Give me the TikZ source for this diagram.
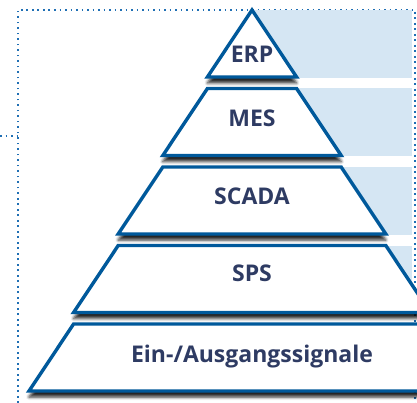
\documentclass[tikz,border=0pt]{standalone}
\usepackage{fontspec}
\setmainfont{Open Sans}
\usetikzlibrary{shadows.blur}
\definecolor{pyrline}{HTML}{00599B}
\definecolor{pyrtext}{HTML}{2E3B63}
\definecolor{pyrband}{HTML}{D5E6F3}
\definecolor{pyrdot}{HTML}{1F6FB4}
\tikzset{
  layer/.style={draw=pyrline, line width=3.4pt, fill=white,
    blur shadow={shadow xshift=0pt, shadow yshift=-6pt, shadow blur radius=3pt, shadow opacity=85}},
  lbl/.style={text=pyrtext, font=\fontsize{23}{25}\selectfont\bfseries, anchor=base, inner sep=0pt},
  frame/.style={pyrdot, line width=1.8pt, dash pattern=on 1.8pt off 3.7pt}
}
\begin{document}
\begin{tikzpicture}[x=1pt,y=-1pt]
\useasboundingbox (0,0) rectangle (417,403);
\clip (0,0) rectangle (417,403);
% dotted frame
\draw[frame] (18,403) -- (18,10) -- (415,10) -- (415,403);
\draw[frame] (0,136) -- (18,136);
% bands behind the pyramid
\foreach \i in {0,...,3}
  \fill[pyrband] (252,{10+78.5*\i}) rectangle (412,{78+78.5*\i});
% layers
\foreach \lbl/\yb [count=\i from 0] in {ERP/14,MES/29,SCADA/29,SPS/31,{Ein-/Ausgangssignale}/29} {
  \pgfmathsetmacro\yt{10+78.5*\i}
  \pgfmathsetmacro\ybot{\yt+67}
  \pgfmathsetmacro\wt{44.6*\i}
  \pgfmathsetmacro\wb{44.6*(\i+1)}
  \ifnum\i=0
    \draw[layer] (252,\yt) -- ({252+\wb},\ybot) -- ({252-\wb},\ybot) -- cycle;
  \else
    \draw[layer] ({252-\wt},\yt) -- ({252+\wt},\yt) -- ({252+\wb},\ybot) -- ({252-\wb},\ybot) -- cycle;
  \fi
  \node[lbl] (layer\i) at (252,{\ybot-\yb}) {\lbl};
}
\end{tikzpicture}
\end{document}
